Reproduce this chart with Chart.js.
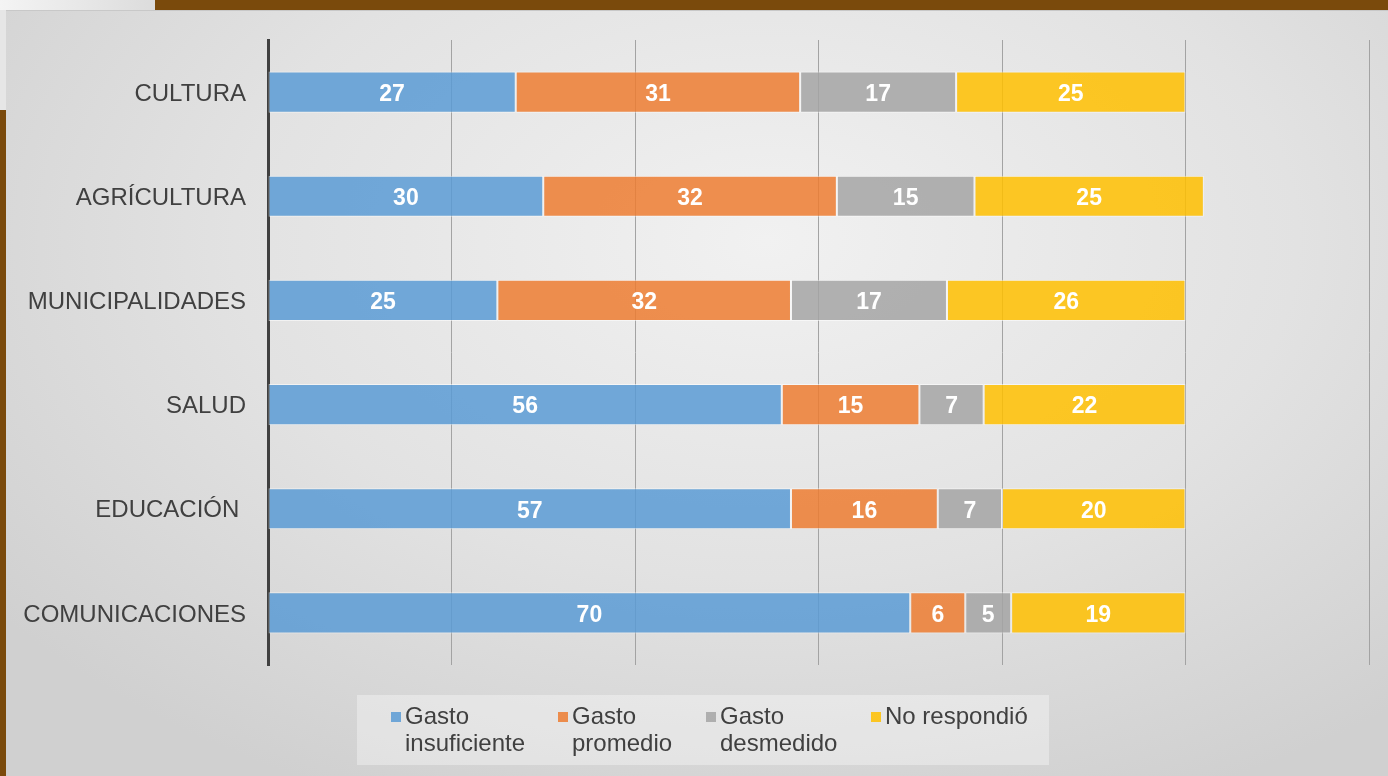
<!DOCTYPE html>
<html lang="es">
<head>
<meta charset="utf-8">
<title>Gasto por sector</title>
<script src="https://cdn.jsdelivr.net/npm/chart.js@4.4.1/dist/chart.umd.min.js"></script>
<style>
    html, body {
        margin: 0;
        padding: 0;
        width: 1388px;
        height: 776px;
        overflow: hidden;
        font-family: "Liberation Sans", Arial, sans-serif;
        background: #7a4a0c;
    }
    /* franja superior y borde de madera */
    .top-left {
        position: absolute;
        left: 0; top: 0;
        width: 155px; height: 10px;
        background: linear-gradient(90deg, #f4f4f4, #dcdcdc);
    }
    .panel {
        position: absolute;
        left: 6px; top: 10px;
        width: 1382px; height: 766px;
        background: radial-gradient(ellipse 70% 80% at 55% 30%, #f1f1f1 0%, #e2e2e2 55%, #d0d0d0 100%);
        border-top: 1px solid #c8c8c8;
    }
    .left-top {
        position: absolute;
        left: 0; top: 10px;
        width: 6px; height: 100px;
        background: #e6e6e6;
    }
    #chartBox {
        position: absolute;
        left: 0; top: 0;
        width: 1388px; height: 776px;
    }
    #legend {
        position: absolute;
        left: 357px; top: 695px;
        width: 692px; height: 70px;
        background: rgba(255, 255, 255, 0.35);
        color: #404040;
        font-size: 24px;
        line-height: 27px;
    }
    #legend .item {
        position: absolute;
        top: 7px;
    }
    #legend .box {
        position: absolute;
        left: -14px; top: 10px;
        width: 10px; height: 10px;
    }
</style>
</head>
<body>
<div class="top-left"></div>
<div class="left-top"></div>
<div class="panel"></div>
<div id="chartBox"><canvas id="canvasChart"></canvas></div>
<div id="legend"></div>

<script>
// [DATOS]
const categorias = ['CULTURA', 'AGRÍCULTURA', 'MUNICIPALIDADES', 'SALUD', 'EDUCACIÓN ', 'COMUNICACIONES'];
const gastoInsuficiente = [27, 30, 25, 56, 57, 70];
const gastoPromedio = [31, 32, 32, 15, 16, 6];
const gastoDesmedido = [17, 15, 17, 7, 7, 5];
const noRespondio = [25, 25, 26, 22, 20, 19];
const series = ['Gasto\ninsuficiente', 'Gasto\npromedio', 'Gasto\ndesmedido', 'No respondió'];
// colores de Office con algo de transparencia (la rejilla se ve a través)
const colores = ['rgba(91,155,213,0.85)', 'rgba(237,125,49,0.85)', 'rgba(165,165,165,0.85)', 'rgba(255,192,0,0.85)'];
const ejeMin = 0;
const ejeMax = 120;
const ejePaso = 20;

// Plugin: escribe el valor en el centro de cada barra
const etiquetasBarras = {
    id: 'etiquetasBarras',
    afterDatasetsDraw(chart) {
        const ctx = chart.ctx;
        ctx.save();
        ctx.font = 'bold 23px "Liberation Sans", Arial, sans-serif';
        ctx.fillStyle = '#ffffff';
        ctx.textAlign = 'center';
        ctx.textBaseline = 'middle';
        chart.data.datasets.forEach((ds, i) => {
            chart.getDatasetMeta(i).data.forEach((bar, j) => {
                const p = bar.getCenterPoint();
                ctx.fillText(String(ds.data[j]), p.x, p.y + 2.5);
            });
        });
        ctx.restore();
    }
};

const valores = [gastoInsuficiente, gastoPromedio, gastoDesmedido, noRespondio];

const configChart = {
    type: 'bar',
    data: {
        labels: categorias,
        datasets: valores.map((data, i) => ({
            label: series[i],
            data: data,
            backgroundColor: colores[i],
            borderColor: 'rgba(255,255,255,0.55)',
            borderWidth: 1,
            borderSkipped: false,
            barPercentage: 0.395,
            categoryPercentage: 1
        }))
    },
    options: {
        indexAxis: 'y',
        responsive: false,
        animation: false,
        layout: {
            padding: { left: 0, top: 40, right: 19, bottom: 111 }
        },
        scales: {
            x: {
                stacked: true,
                min: ejeMin,
                max: ejeMax,
                ticks: { display: false, stepSize: ejePaso },
                grid: { color: '#a3a3a3', lineWidth: 1, drawTicks: false },
                border: { display: false }
            },
            y: {
                stacked: true,
                grid: { display: false, drawTicks: false },
                border: { display: true, color: '#404040', width: 3 },
                ticks: {
                    color: '#404040',
                    padding: 22,
                    labelOffset: 2,
                    font: { family: '"Liberation Sans", Arial, sans-serif', size: 24 }
                },
                afterFit(scale) {
                    scale.width = 268;
                }
            }
        },
        plugins: {
            legend: { display: false },
            tooltip: { enabled: false }
        }
    },
    plugins: [etiquetasBarras]
};

const $CANVAS = document.getElementById('canvasChart');
$CANVAS.width = 1388;
$CANVAS.height = 776;
new Chart($CANVAS, configChart);

// Leyenda en HTML (texto en dos líneas)
const posLeyenda = [48, 215, 363, 528];
const $LEGEND = document.getElementById('legend');
series.forEach((s, i) => {
    const item = document.createElement('div');
    item.className = 'item';
    item.style.left = posLeyenda[i] + 'px';
    const box = document.createElement('span');
    box.className = 'box';
    box.style.background = colores[i];
    item.appendChild(box);
    s.split('\n').forEach((linea, k) => {
        if (k > 0) item.appendChild(document.createElement('br'));
        item.appendChild(document.createTextNode(linea));
    });
    $LEGEND.appendChild(item);
});
</script>
</body>
</html>
